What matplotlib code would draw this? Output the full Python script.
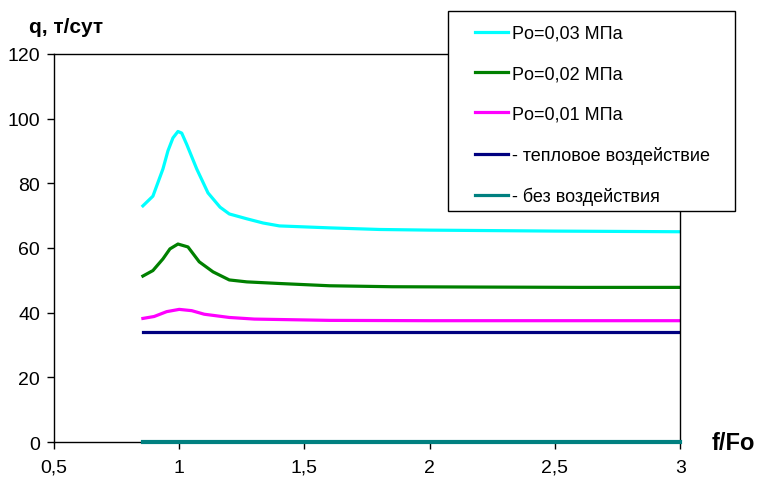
import numpy as np
import matplotlib.pyplot as plt
from matplotlib.ticker import FuncFormatter
from matplotlib.patches import Rectangle

plt.rcParams['font.family'] = ['Liberation Sans', 'DejaVu Sans']

# Po = 0,03 MPa
x_03 = [0.855, 0.895, 0.935, 0.955, 0.975, 0.995, 1.01, 1.03, 1.07, 1.115, 1.163, 1.2,
        1.27, 1.335, 1.4, 1.6, 1.8, 2.0, 2.5, 3.0]
q_03 = [73.0, 76.0, 84.4, 90.0, 94.0, 96.0, 95.5, 92.0, 84.4, 77.0, 72.6, 70.5,
        69.0, 67.7, 66.8, 66.2, 65.7, 65.5, 65.2, 65.0]

# Po = 0,02 MPa
x_02 = [0.855, 0.895, 0.935, 0.963, 0.995, 1.035, 1.08, 1.135, 1.2, 1.27, 1.4, 1.6,
        1.85, 2.2, 2.6, 3.0]
q_02 = [51.3, 53.0, 56.6, 59.7, 61.2, 60.3, 55.7, 52.6, 50.1, 49.5, 49.0, 48.3,
        48.0, 47.9, 47.8, 47.8]

# Po = 0,01 MPa
x_01 = [0.855, 0.9, 0.95, 1.0, 1.05, 1.1, 1.2, 1.3, 1.45, 1.6, 2.0, 2.5, 3.0]
q_01 = [38.2, 38.8, 40.3, 41.0, 40.6, 39.5, 38.5, 38.0, 37.8, 37.6, 37.5, 37.5, 37.5]

# тепловое воздействие / без воздействия
x_flat = [0.855, 3.0]
q_heat = [34.0, 34.0]
q_none = [0.0, 0.0]

fig = plt.figure(figsize=(7.6, 4.81), dpi=100)
ax = fig.add_axes([0.071, 0.079, 0.824, 0.807])

lw = 2.3
ax.plot(x_03, q_03, color='#00ffff', lw=lw, label='Po=0,03 МПа')
ax.plot(x_02, q_02, color='#008000', lw=lw, label='Po=0,02 МПа')
ax.plot(x_01, q_01, color='#ff00ff', lw=lw, label='Po=0,01 МПа')
ax.plot(x_flat, q_heat, color='#000080', lw=lw, label='- тепловое воздействие')
ax.plot(x_flat, q_none, color='#008080', lw=lw + 0.7, label='- без воздействия',
        clip_on=False, zorder=3)

ax.set_xlim(0.5, 3.0)
ax.set_ylim(0, 120)
ax.set_xticks([0.5, 1, 1.5, 2, 2.5, 3])
ax.set_yticks(range(0, 121, 20))
ax.xaxis.set_major_formatter(FuncFormatter(lambda v, p: f'{v:g}'.replace('.', ',')))
ax.tick_params(axis='both', direction='out', length=5, width=1, labelsize=14, colors='black')
ax.tick_params(axis='x', pad=7)
ax.tick_params(axis='y', pad=5)
for s in ax.spines.values():
    s.set_linewidth(1)
    s.set_color('black')

fig.text(0.038, 0.942, 'q, т/сут', fontsize=15, fontweight='bold', ha='left', va='center')
fig.text(0.936, 0.079, 'f/Fo', fontsize=17, fontweight='bold', ha='left', va='center')

# legend box drawn separately (wider side padding than top/bottom)
fig.patches.append(Rectangle((0.5895, 0.5593), 0.3776, 0.4158, transform=fig.transFigure,
                             facecolor='white', edgecolor='black', lw=1, zorder=5))
leg = fig.legend(loc='upper left', bbox_to_anchor=(0.625, 0.946), frameon=False,
                 fontsize=13, labelspacing=1.29, handlelength=1.85, handletextpad=0.2,
                 borderpad=0, borderaxespad=0)
for h in leg.get_lines():
    h.set_linewidth(lw)
leg.set_zorder(6)

plt.savefig('out.png', dpi=100)
